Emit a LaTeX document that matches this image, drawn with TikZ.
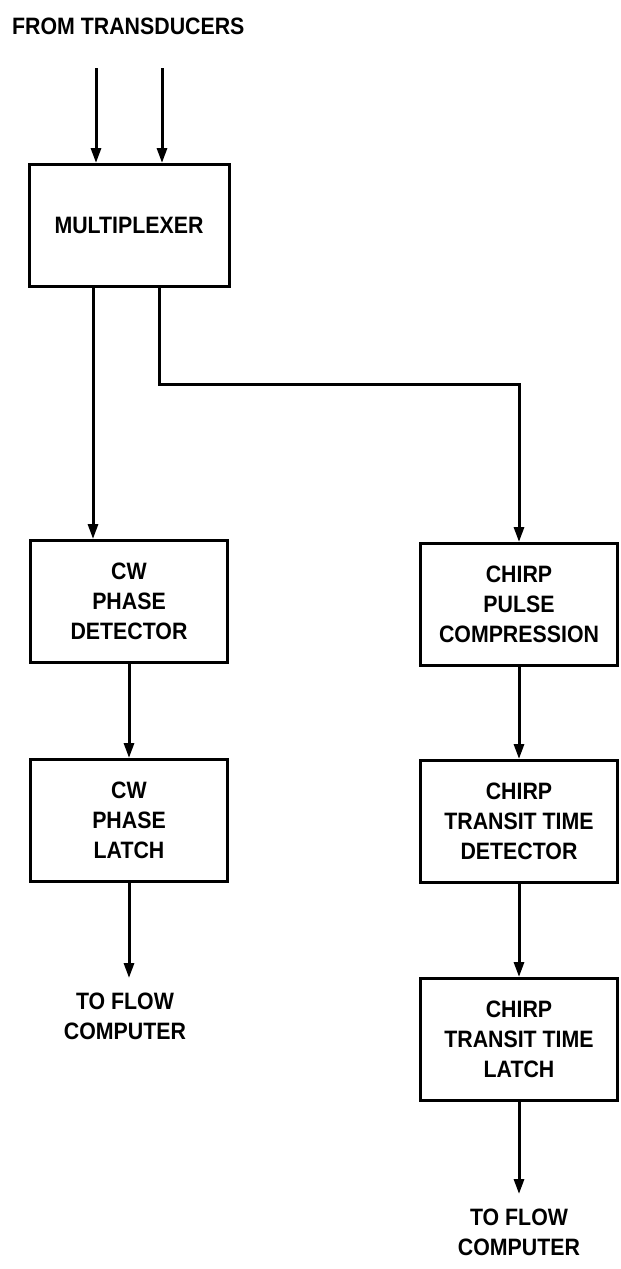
\documentclass[tikz,border=0pt]{standalone}
\usepackage{fontspec}
\setmainfont{Liberation Sans}[FakeStretch=0.9]
\usepackage{tikz}
\usetikzlibrary{arrows.meta, positioning}

\begin{document}
\begin{tikzpicture}[
  x=1pt, y=1pt,
  blockbox/.style={draw, rectangle, line width=3pt,
                minimum width=197pt, minimum height=122pt, inner sep=3pt,
                align=center, font=\fontsize{23.7}{30}\selectfont\bfseries},
  outtext/.style={align=center, inner xsep=0pt, inner ysep=15pt,
                font=\fontsize{23.7}{30}\selectfont\bfseries},
  arrow/.style={-{Triangle[length=15pt, width=10pt]}, line width=3pt},
]
\useasboundingbox (0,0) rectangle (621,-1269);

%% Input
\node[anchor=north west, inner sep=0pt, font=\fontsize{23.7}{30}\selectfont\bfseries]
  (src) at (12,-18) {FROM TRANSDUCERS};
\node[blockbox, minimum width=200pt] (mux) at (129,-225.5) {MULTIPLEXER};
\coordinate (inA) at ([xshift=-33pt, yshift=95pt]mux.north);
\coordinate (inB) at ([xshift=33pt, yshift=95pt]mux.north);

%% CW branch
\node[blockbox, below=251pt of mux] (cwdet) {CW\\PHASE\\DETECTOR};
\node[blockbox, below=94pt of cwdet] (cwlatch) {CW\\PHASE\\LATCH};
\node[outtext, below=95pt of cwlatch, xshift=-4pt] (cwout) {TO FLOW\\COMPUTER};

%% Chirp branch
\node[blockbox, right=190pt of cwdet, yshift=-3pt] (cpc)
  {CHIRP\\PULSE\\COMPRESSION};
\node[blockbox, below=92pt of cpc] (cttd) {CHIRP\\TRANSIT TIME\\DETECTOR};
\node[blockbox, below=93pt of cttd] (cttl) {CHIRP\\TRANSIT TIME\\LATCH};
\node[outtext, below=92pt of cttl] (cttout) {TO FLOW\\COMPUTER};

%% Main arrows
\draw[arrow] (inA) -- (inA |- mux.north);
\draw[arrow] (inB) -- (inB |- mux.north);
\draw[arrow] ([xshift=-36pt]mux.south) -- ([xshift=-36pt]mux.south |- cwdet.north);
\draw[arrow] ([xshift=30pt]mux.south) -- ++(0,-96) -| (cpc.north);
\draw[arrow] (cwdet) -- (cwlatch);
\draw[arrow] (cwlatch.south) -- (cwlatch.south |- cwout.north);
\draw[arrow] (cpc) -- (cttd);
\draw[arrow] (cttd) -- (cttl);
\draw[arrow] (cttl) -- (cttout);

\end{tikzpicture}
\end{document}
